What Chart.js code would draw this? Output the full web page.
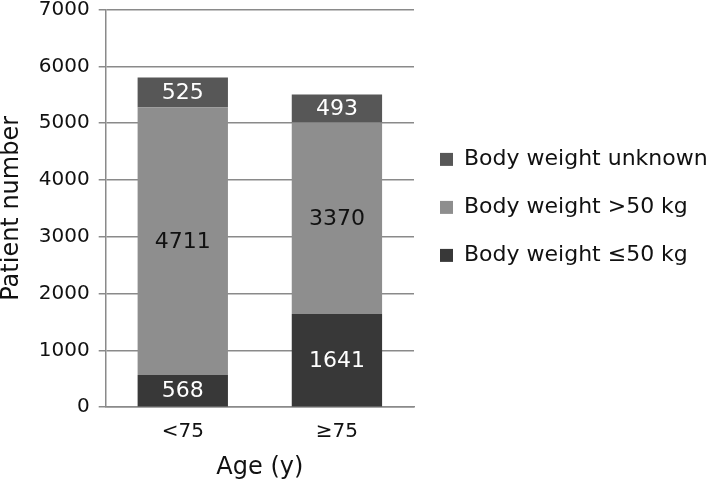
<!DOCTYPE html>
<html>
<head>
<meta charset="utf-8">
<script src="https://cdn.jsdelivr.net/npm/chart.js@4.4.0/dist/chart.umd.min.js"></script>
<style>
  html, body { margin: 0; padding: 0; background: #fff; }
  #wrap { width: 709px; height: 484px; }
</style>
</head>
<body>
<div id="wrap"><canvas id="myChart"></canvas></div>
<script>
const ageGroups = ["<75", "≥75"];
const weightUnder50 = [568, 1641];
const weightOver50 = [4711, 3370];
const weightUnknown = [525, 493];
const seriesNames = ["Body weight ≤50 kg", "Body weight >50 kg", "Body weight unknown"];
const seriesColors = ["#383838", "#8e8e8e", "#575757"];
const valueColors = ["#ffffff", "#111111", "#ffffff"];
const yMin = 0;
const yMax = 7000;
const yStep = 1000;

const FONT = "'DejaVu Sans', sans-serif";
const TEXT = "#111111";
const GRID = "#8a8a8a";

// writes the numbers in the middle of every bar segment
const barValueLabels = {
  id: "barValueLabels",
  afterDatasetsDraw(chart) {
    const ctx = chart.ctx;
    ctx.save();
    ctx.font = "22px " + FONT;
    ctx.textAlign = "center";
    ctx.textBaseline = "middle";
    chart.data.datasets.forEach((ds, i) => {
      const meta = chart.getDatasetMeta(i);
      meta.data.forEach((bar, j) => {
        const pos = bar.getCenterPoint();
        ctx.fillStyle = valueColors[i];
        ctx.fillText(String(ds.data[j]), pos.x, pos.y + 1);
      });
    });
    ctx.restore();
  },
};

const seriesData = [weightUnder50, weightOver50, weightUnknown];

const ctx = document.getElementById("myChart").getContext("2d");
new Chart(ctx, {
  type: "bar",
  data: {
    labels: ageGroups,
    datasets: seriesData.map((d, i) => ({
      label: seriesNames[i],
      data: d,
      backgroundColor: seriesColors[i],
      borderWidth: 0,
      barPercentage: 0.586,
      categoryPercentage: 1,
    })),
  },
  options: {
    responsive: true,
    maintainAspectRatio: false,
    animation: false,
    layout: { padding: { left: -3, top: 0, right: -5, bottom: 0 } },
    plugins: {
      tooltip: { enabled: false },
      legend: {
        position: "right",
        reverse: true,
        align: "start",
        maxWidth: 300,
        // empty title only pushes the rows down
        title: { display: true, text: "", font: { size: 12 }, padding: { top: 108, bottom: 0 } },
        labels: {
          boxWidth: 13,
          boxHeight: 13,
          padding: 26,
          color: TEXT,
          font: { family: FONT, size: 22 },
        },
      },
    },
    scales: {
      x: {
        stacked: true,
        grid: { display: false, drawTicks: false, tickLength: 0 },
        border: { display: true, color: GRID, width: 1.5 },
        ticks: { color: TEXT, padding: 13, font: { family: FONT, size: 20 } },
        title: {
          display: true,
          text: "Age (y)",
          color: TEXT,
          font: { family: FONT, size: 24 },
          padding: { top: -4, bottom: 2 },
        },
      },
      y: {
        stacked: true,
        min: yMin,
        max: yMax,
        ticks: {
          stepSize: yStep,
          color: TEXT,
          padding: 9,
          font: { family: FONT, size: 20, lineHeight: 0.05 },
          callback: (v) => String(v),
        },
        grid: { color: GRID, lineWidth: 1.5, tickLength: 7 },
        border: { display: true, color: GRID, width: 1.5 },
        title: {
          display: true,
          text: "Patient number",
          color: TEXT,
          font: { family: FONT, size: 24 },
          padding: { top: 0, bottom: 4 },
        },
      },
    },
  },
  plugins: [barValueLabels],
});
</script>
</body>
</html>
